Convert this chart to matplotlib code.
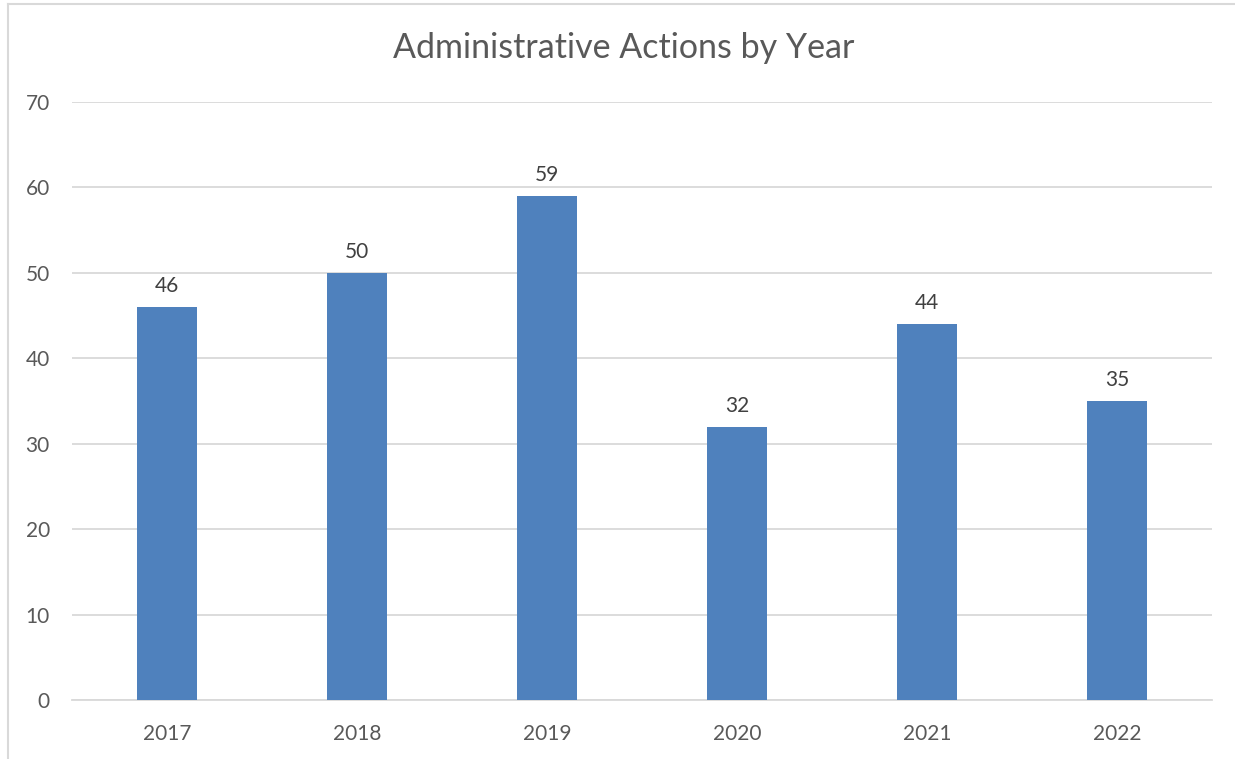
import matplotlib
matplotlib.use("Agg")
import matplotlib.pyplot as plt
from matplotlib.lines import Line2D

years = ["2017", "2018", "2019", "2020", "2021", "2022"]
actions = [46, 50, 59, 32, 44, 35]

W, H = 1235, 759
plt.rcParams['font.family'] = ['Lato', 'DejaVu Sans']
text_color = '#595959'

fig = plt.figure(figsize=(W / 100, H / 100), dpi=100)
ax = fig.add_axes([72 / W, 1 - 700 / H, (1212 - 72) / W, (700 - 102) / H])

x = range(len(years))
bars = ax.bar(x, actions, width=0.316, color='#4F81BD', zorder=3)
for rect, v in zip(bars, actions):
    ax.annotate(str(v), (rect.get_x() + rect.get_width() / 2, v),
                xytext=(0, 8), textcoords='offset points',
                ha='center', va='bottom', fontsize=15, color='#404040')

ax.set_xlim(-0.5, len(years) - 0.5)
ax.set_ylim(0, 70)
ax.set_yticks(range(0, 71, 10))
ax.set_xticks(list(x))
ax.set_xticklabels(years)
ax.grid(axis='y', color='#D9D9D9', linewidth=1.3, zorder=0)
for s in ['top', 'right', 'left']:
    ax.spines[s].set_visible(False)
ax.spines['bottom'].set_color('#D9D9D9')
ax.spines['bottom'].set_linewidth(1.3)
ax.tick_params(length=0, labelsize=15, colors=text_color)
ax.tick_params(axis='y', pad=16)
ax.tick_params(axis='x', pad=17)

fig.text(624 / W, 1 - 48 / H, "Administrative Actions by Year",
         ha='center', va='center', fontsize=24.5, color=text_color)

# chart frame (top and left edges visible in the screenshot)
fig.add_artist(Line2D([8 / W, 1], [1 - 4 / H, 1 - 4 / H], color='#D9D9D9', lw=1.5))
fig.add_artist(Line2D([8 / W, 8 / W], [0, 1 - 4 / H], color='#D9D9D9', lw=1.5))

fig.savefig("out.png", dpi=100)
